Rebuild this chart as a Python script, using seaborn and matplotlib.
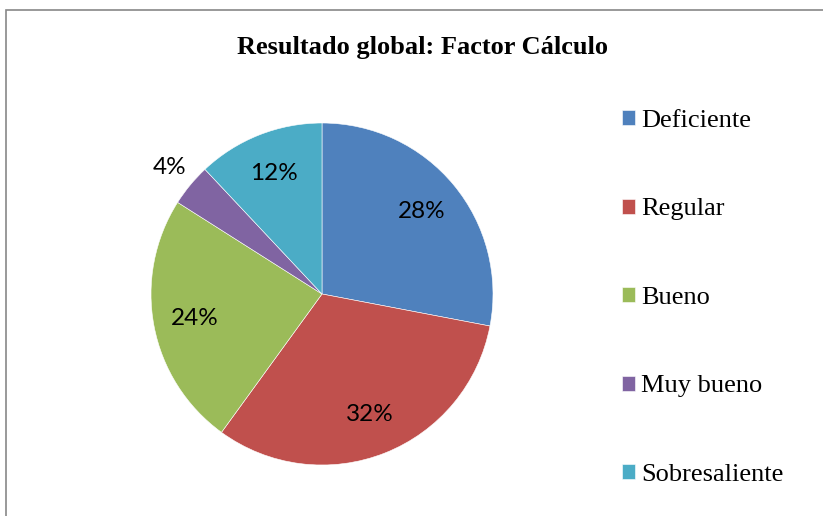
import matplotlib
matplotlib.use('Agg')
import matplotlib.pyplot as plt
import matplotlib.patches as mpatches
import numpy as np
import seaborn as sns

# Data
categories = ['Deficiente', 'Regular', 'Bueno', 'Muy bueno', 'Sobresaliente']
percentages = [28, 32, 24, 4, 12]
colors = ['#4F81BD', '#C0504D', '#9BBB59', '#8064A2', '#4BACC6']
title = 'Resultado global: Factor Cálculo'

sns.set_theme(style="white")
plt.rcParams['font.family'] = ['Liberation Serif', 'DejaVu Serif']
plt.rcParams['text.color'] = 'black'

fig = plt.figure(figsize=(8.23, 5.16), dpi=100)
W, H = 823, 516

# Chart border (Excel-style frame, cut at right/bottom)
frame = mpatches.Rectangle((6 / W, -0.1), 1.2, 1.1 - 10 / H,
                           transform=fig.transFigure, fill=False,
                           edgecolor='#878787', linewidth=1.2)
fig.patches.append(frame)

# Pie axes: centre (322, 294), radius 171 px
cx, cy, r = 322, 294, 171
ax = fig.add_axes([(cx - r) / W, (H - cy - r) / H, 2 * r / W, 2 * r / H])

wedges, texts, autotexts = ax.pie(
    percentages, colors=colors, startangle=90, counterclock=False,
    autopct=lambda p: f'{p:.0f}%', pctdistance=0.76, radius=1,
    wedgeprops=dict(edgecolor='white', linewidth=0.4),
    textprops=dict(family=['Lato', 'DejaVu Sans'], fontsize=17.5,
                   color='black'))

# small slice label sits outside the pie
for w, t, v in zip(wedges, autotexts, percentages):
    if v < 5:
        ang = np.deg2rad((w.theta1 + w.theta2) / 2)
        t.set_position((1.16 * np.cos(ang), 1.16 * np.sin(ang)))

ax.set_xlim(-1, 1)
ax.set_ylim(-1, 1)
ax.set_aspect('equal')
ax.axis('off')

fig.text(423 / W, 1 - 48 / H, title, ha='center', va='center',
         fontsize=19, fontweight='bold', color='black')

leg = fig.legend(wedges, categories, loc='upper left',
                 bbox_to_anchor=(622 / W, 1 - 110 / H), frameon=False,
                 fontsize=19, handlelength=0.5, handleheight=0.5,
                 handletextpad=0.22, labelspacing=2.52, borderpad=0,
                 borderaxespad=0)
for t in leg.get_texts():
    t.set_color('black')

fig.savefig('out.png', dpi=100)
